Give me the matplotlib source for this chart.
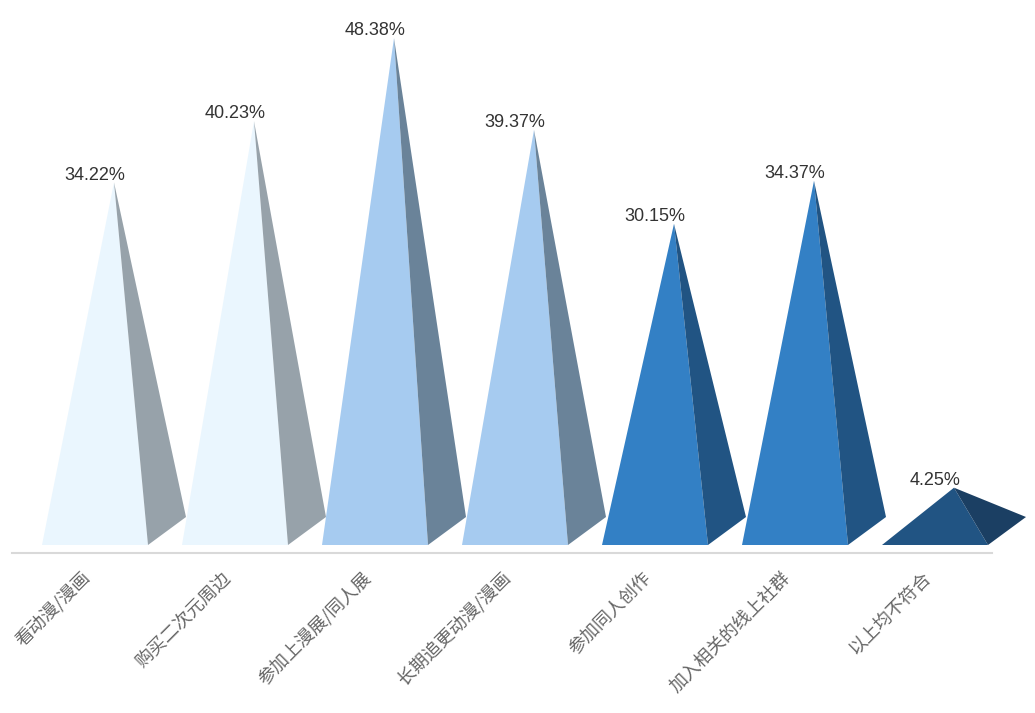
import matplotlib.pyplot as plt
from matplotlib.patches import Polygon
from matplotlib import transforms

plt.rcParams['font.family'] = ['Noto Sans CJK SC', 'DejaVu Sans']

# data
categories = ['看动漫/漫画', '购买二次元周边', '参加上漫展/同人展', '长期追更动漫/漫画',
              '参加同人创作', '加入相关的线上社群', '以上均不符合']
values = [34.22, 40.23, 48.38, 39.37, 30.15, 34.37, 4.25]

# colours for front face and side face of each pyramid
front_colors = ['#eaf6fe', '#eaf6fe', '#a6cbf0', '#a6cbf0', '#3380c5', '#3380c5', '#215483']
side_colors = ['#97a2aa', '#97a2aa', '#6a8399', '#6a8399', '#215483', '#215483', '#1b3f63']

W, H = 1035, 713
fig = plt.figure(figsize=(W / 100, H / 100), dpi=100)
# axes: spine at pixel y 553, x from 12 to 992
ax = fig.add_axes([12 / W, (H - 553) / H, 980 / W, 553 / H])

px_x = 1 / 140.0      # category units per pixel
px_y = 1 / 10.19      # value units per pixel
ax.set_xlim(-0.5, len(categories) - 0.5)
ax.set_ylim(-22 * px_y, 531 * px_y)

base_front = -14 * px_y
base_back = 14 * px_y
for i, v in enumerate(values):
    left = i - 40 * px_x
    right = i + 66 * px_x
    back = right + 38 * px_x
    apex = (i + 32 * px_x, v)
    ax.add_patch(Polygon([(left, base_front), (right, base_front), apex], clip_on=False,
                         closed=True, facecolor=front_colors[i], edgecolor='none'))
    ax.add_patch(Polygon([apex, (right, base_front), (back, base_back)], clip_on=False,
                         closed=True, facecolor=side_colors[i], edgecolor='none'))
    ax.annotate(f'{v:.2f}%', xy=(i + 13 * px_x, v), xytext=(0, -1), textcoords='offset points',
                ha='center', va='bottom', fontsize=13, color='#333333',
                family=['Liberation Sans', 'DejaVu Sans'])

for s in ['top', 'right', 'left']:
    ax.spines[s].set_visible(False)
ax.spines['bottom'].set_color('#d9d9d9')
ax.spines['bottom'].set_linewidth(1.5)
ax.spines['bottom'].set_position(('data', -22 * px_y))
ax.set_yticks([])
ax.set_xticks([])

for i, c in enumerate(categories):
    offs = transforms.offset_copy(ax.transData, fig=fig, x=6, y=-22, units='dots')
    ax.text(i, -22 * px_y, c, transform=offs, rotation=45, rotation_mode='anchor',
            ha='right', va='center', fontsize=13, color='#666666')

fig.savefig('out.png', dpi=100)
